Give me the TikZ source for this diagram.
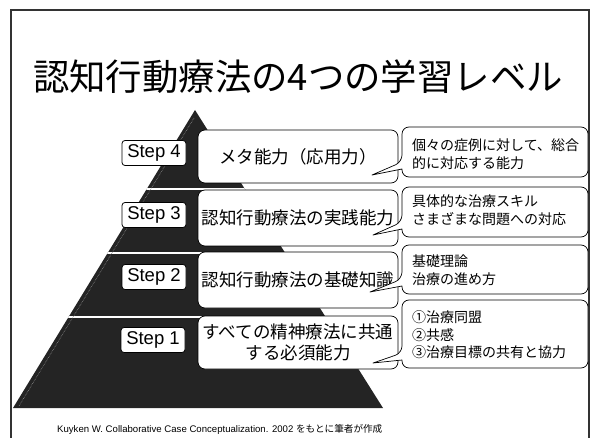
\documentclass[tikz,border=0pt]{standalone}
\usepackage{fontspec}
\setmainfont{Noto Sans CJK JP}
\newfontfamily\arialf{Liberation Sans}
\newfontfamily\cjk{Noto Sans CJK JP}
\newcommand{\mycallout}[6]{%
  \draw[callout] (#5,#6) -- (#1,{#4-8}) [rounded corners=7pt] -- (#1,#4) -- (#3,#4) -- (#3,#2) -- (#1,#2) -- (#1,{#4-15}) [sharp corners] -- cycle;}
\begin{document}
\begin{tikzpicture}[x=1pt,y=-1pt,
  frame/.style={line width=1.1pt, draw=black!80},
  pyr/.style={fill=black!86},
  stepbox/.style={draw, fill=white, rounded corners=3pt, line width=0.8pt,
    font=\arialf\fontsize{18.5}{19}\selectfont, minimum width=64pt, minimum height=25pt, inner sep=0pt},
  midbox/.style={draw, fill=white, rounded corners=7pt, line width=0.7pt,
    minimum width=200pt, font=\cjk\fontsize{17.5}{21}\selectfont, align=center, inner sep=0pt},
  callout/.style={draw, fill=white, line width=0.7pt, line join=round},
  rtext/.style={anchor=west, font=\cjk\fontsize{14}{17.5}\selectfont, align=left, inner sep=0pt},
]
\useasboundingbox (0,0) rectangle (591,438);
% slide frame
\draw[frame] (11,438) -- (11,10) -- (589,10) -- (589,438);
% title
\node[font=\cjk\fontsize{36.4}{40}\selectfont, inner sep=0pt] (title) at (298,77) {認知行動療法の4つの学習レベル};
% pyramid
\coordinate (apex) at (195,110);
\coordinate (bl) at (13,408);
\coordinate (br) at (383,408);
\fill[pyr] (apex) -- (bl) -- (br) -- cycle;
\begin{scope}
  \clip (apex) -- (bl) -- (br) -- cycle;
  \draw[white, line width=1.8pt] (0,189) -- (400,189);
  \draw[white, line width=1.8pt] (0,253) -- (400,253);
  \draw[white, line width=1.8pt] (0,317) -- (400,317);
  \draw[black!45, line width=0.6pt, densely dotted] (194,118) -- (19,406);
\end{scope}
% step labels
\node[stepbox] (s4) at (154,153) {Step 4};
\node[stepbox] (s3) at (154,215) {Step 3};
\node[stepbox] (s2) at (154,277) {Step 2};
\node[stepbox] (s1) at (153,340) {Step 1};
% middle boxes
\node[midbox, minimum height=53pt] (m4) at (298,156.5) {メタ能力（応用力）};
\node[midbox, minimum height=56pt] (m3) at (298,218) {認知行動療法の実践能力};
\node[midbox, minimum height=56pt] (m2) at (298,280) {認知行動療法の基礎知識};
\node[midbox, minimum height=53pt] (m1) at (298,342.5) {すべての精神療法に共通\\する必須能力};
% right callouts
\coordinate (t4) at (372,175);
\coordinate (t3) at (373,235);
\coordinate (t2) at (370,292);
\coordinate (t1) at (373,363);
\mycallout{402}{127}{588}{177}{372}{175}
\node[rtext] (r4) at (412,154) {個々の症例に対して、総合\\的に対応する能力};
\mycallout{402}{187}{588}{237}{373}{235}
\node[rtext] (r3) at (412,210) {具体的な治療スキル\\さまざまな問題への対応};
\mycallout{402}{245}{588}{294}{370}{292}
\node[rtext] (r2) at (412,270) {基礎理論\\治療の進め方};
\mycallout{402}{300}{588}{368}{373}{363}
\node[rtext] (r1) at (412,335) {①治療同盟\\②共感\\③治療目標の共有と協力};
% citation
\node[inner sep=0pt, anchor=west] (cite) at (57,429) {\arialf\fontsize{9.6}{11}\selectfont Kuyken W. Collaborative Case Conceptualization. 2002 \cjk\fontsize{9.6}{11}\selectfont をもとに筆者が作成};
\end{tikzpicture}
\end{document}
